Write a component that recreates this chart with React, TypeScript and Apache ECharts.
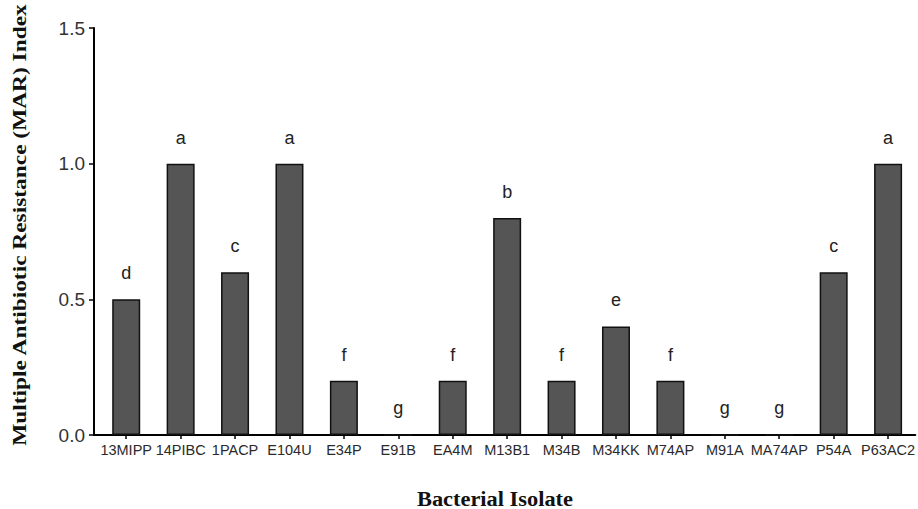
import React, { useEffect, useRef } from "react";
import * as echarts from "echarts";

const categories = ["13MIPP", "14PIBC", "1PACP", "E104U", "E34P", "E91B", "EA4M", "M13B1", "M34B", "M34KK", "M74AP", "M91A", "MA74AP", "P54A", "P63AC2"];
const marValues = [0.5, 1.0, 0.6, 1.0, 0.2, 0, 0.2, 0.8, 0.2, 0.4, 0.2, 0, 0, 0.6, 1.0];
const groupLetters = ["d", "a", "c", "a", "f", "g", "f", "b", "f", "e", "f", "g", "g", "c", "a"];
const yTicks = [0, 0.5, 1.0, 1.5];

export default function App() {
  const ref = useRef<HTMLDivElement>(null);
  useEffect(() => {
    if (!ref.current) return;
    const chart = echarts.init(ref.current, null, { renderer: "svg" });
    chart.setOption({
      animation: false,
      backgroundColor: "#ffffff",
      grid: { left: 99, right: 0, top: 28, bottom: 74, containLabel: false },
      xAxis: {
        type: "category",
        data: categories,
        axisLine: { show: true, lineStyle: { color: "#000", width: 2 } },
        axisTick: { show: true, alignWithLabel: true, length: 4, lineStyle: { color: "#000", width: 1.5 } },
        axisLabel: { color: "#2a2a2a", fontFamily: "Arial, Liberation Sans, sans-serif", fontSize: 14.5, margin: 7, interval: 0 },
        splitLine: { show: false },
      },
      yAxis: {
        type: "value",
        min: yTicks[0],
        max: yTicks[yTicks.length - 1],
        interval: 0.5,
        offset: 5,
        axisLine: { show: true, lineStyle: { color: "#000", width: 2 } },
        axisTick: { show: true, length: 5, lineStyle: { color: "#000", width: 1.5 } },
        axisLabel: {
          color: "#333",
          fontFamily: "Arial, Liberation Sans, sans-serif",
          fontSize: 19,
          margin: 9,
          formatter: (v: number) => v.toFixed(1),
        },
        splitLine: { show: false },
      },
      graphic: [
        { type: "line", shape: { x1: 93, y1: 435, x2: 100, y2: 435 }, style: { stroke: "#000", lineWidth: 2 } },
        {
          type: "text",
          x: 20,
          y: 225,
          rotation: Math.PI / 2,
          scaleX: 1.2,
          style: {
            text: "Multiple Antibiotic Resistance (MAR) Index",
            fontFamily: "Liberation Serif, Times New Roman, serif",
            fontWeight: "bold",
            fontSize: 19.5,
            fill: "#111",
            align: "center",
            verticalAlign: "middle",
          },
        },
        {
          type: "text",
          x: 495,
          y: 499,
          scaleX: 1.12,
          style: {
            text: "Bacterial Isolate",
            fontFamily: "Liberation Serif, Times New Roman, serif",
            fontWeight: "bold",
            fontSize: 20,
            fill: "#111",
            align: "center",
            verticalAlign: "middle",
          },
        },
      ],
      series: [
        {
          type: "bar",
          data: marValues,
          barWidth: 28,
          itemStyle: { color: "#555555", borderColor: "#111", borderWidth: 1.5 },
          label: {
            show: true,
            position: "top",
            distance: 17,
            fontFamily: "Arial, Liberation Sans, sans-serif",
            fontSize: 18,
            color: "#222",
            formatter: (p: any) => groupLetters[p.dataIndex],
          },
        },
      ],
    });
    return () => chart.dispose();
  }, []);
  return <div ref={ref} style={{ position: "absolute", left: 0, top: 0, width: 918, height: 509 }} />;
}
